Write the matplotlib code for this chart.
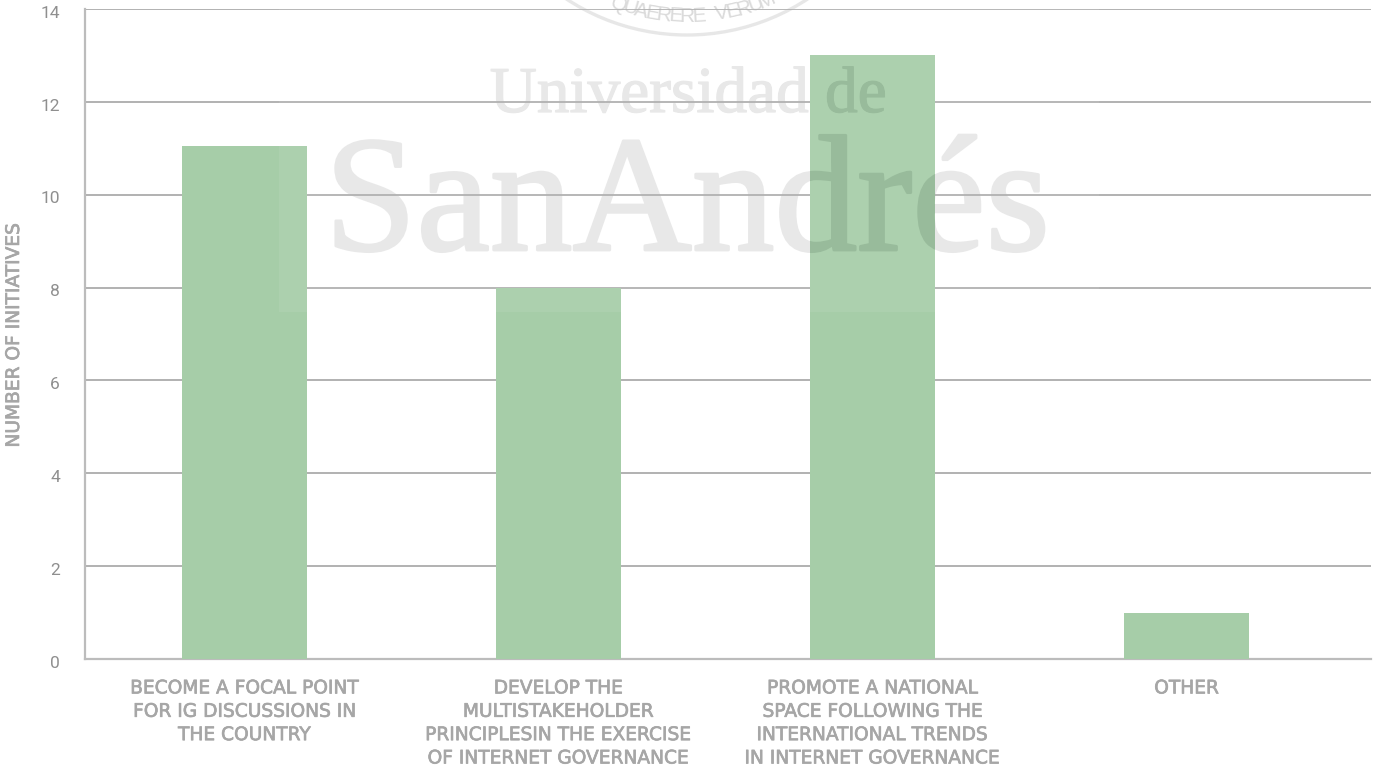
import matplotlib
matplotlib.use('Agg')
import numpy as np
import matplotlib.pyplot as plt
import matplotlib.patheffects as pe
from matplotlib.patches import Arc, Rectangle
from matplotlib.transforms import ScaledTranslation

# datos
categorias = ['BECOME A FOCAL POINT\nFOR IG DISCUSSIONS IN\nTHE COUNTRY',
              'DEVELOP THE\nMULTISTAKEHOLDER\nPRINCIPLESIN THE EXERCISE\nOF INTERNET GOVERNANCE',
              'PROMOTE A NATIONAL\nSPACE FOLLOWING THE\nINTERNATIONAL TRENDS\nIN INTERNET GOVERNANCE',
              'OTHER']
valores = [11.05, 8, 13.02, 1]
ticks_y = [0, 2, 4, 6, 8, 10, 12, 14]

W, H = 1373, 765
fig = plt.figure(figsize=(W/100, H/100), dpi=100)
ax = fig.add_axes([85/W, 1-659/H, (1371-85)/W, (659-9)/H])
ax.patch.set_visible(False)

gris = '#a6a6a6'
verde = '#a6cda8'
pos = [0, 1, 2, 3]
barras = ax.bar(pos, valores, width=0.398, color=verde, zorder=3)
ax.set_xlim(-0.508, 3.587)
ax.set_ylim(0, 14)
ax.set_yticks(ticks_y)
ax.set_xticks(pos)
ax.set_xticklabels(categorias)
ax.grid(axis='y', color='#ababab', linewidth=1.3, zorder=1)
ax.tick_params(length=0)
ax.tick_params(axis='x', pad=14)
ax.tick_params(axis='y', pad=18)
trazo = [pe.withStroke(linewidth=0.5, foreground=gris)]
for l in ax.get_xticklabels():
    l.set(fontsize=13.4, color=gris, family='DejaVu Sans', linespacing=1.29, va='top', path_effects=trazo)
baja = ScaledTranslation(0, -2/72, fig.dpi_scale_trans)
for l in ax.get_yticklabels():
    l.set(fontsize=12.5, color='#8f8f8f', family='Roboto')
    l.set_transform(l.get_transform() + baja)
ax.set_ylabel('NUMBER OF INITIATIVES', fontsize=13.4, color=gris, family='DejaVu Sans', path_effects=trazo)
ax.yaxis.set_label_coords(23/W, 1-335/H, transform=fig.transFigure)
for s in ['top', 'right']:
    ax.spines[s].set_visible(False)
for s in ['left', 'bottom']:
    ax.spines[s].set_color('#bcbcbc')
    ax.spines[s].set_linewidth(1.6)

# velo claro del sello sobre las barras
fig.add_artist(Rectangle((279/W, 1-312/H), 820/W, 312/H, transform=fig.transFigure,
                         facecolor='white', alpha=0.08, edgecolor='none', zorder=4))

# marca de agua: gris debajo de las barras, verde oscuro encima de la tercera
def marca(color, z):
    a = fig.text(688/W, 1-112/H, 'Universidad de', fontsize=47, color=color, zorder=z,
                 family='Liberation Serif', ha='center', va='baseline',
                 path_effects=[pe.withStroke(linewidth=0.9, foreground=color)])
    b = fig.text(687/W, 1-250/H, 'SanAndrés', fontsize=119, color=color, zorder=z,
                 family='Liberation Serif', ha='center', va='baseline',
                 path_effects=[pe.withStroke(linewidth=2.0, foreground=color)])
    return a, b

marca('#e7e7e7', -1)
for t in marca('#98bb9b', 5):
    t.set_clip_path(barras[2])
    t.set_clip_on(True)

# sello
R = 220
cx, cy = 687, -185
fig.add_artist(Arc((cx/W, 1-cy/H), 2*R/W, 2*R/H, theta1=180, theta2=360, transform=fig.transFigure,
                   color='#e6e6e6', linewidth=2.4, zorder=-1))
lema = 'QUAERERE VERUM'
for i, c in enumerate(lema):
    ang = np.radians(3.3*(i-6))
    fig.text((cx + 207*np.sin(ang))/W, 1-(cy + 207*np.cos(ang))/H, c, fontsize=15,
             family='Liberation Sans', rotation=np.degrees(ang), rotation_mode='anchor',
             color='#d8d8d8', ha='center', va='baseline', zorder=-1)

fig.savefig('out.png', dpi=100)
